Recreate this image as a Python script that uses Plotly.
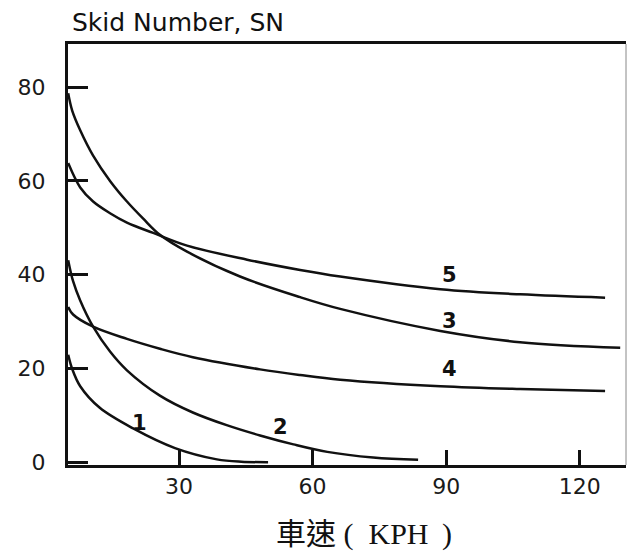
import plotly.graph_objects as go

# Skid number vs. speed for five pavement surfaces
speed_1 = [5.1, 6.0, 7.8, 12.2, 19.7, 29.1, 38.5, 44.0, 50.0]
sn_1 = [22.9, 19.9, 16.2, 11.6, 7.2, 3.0, 0.6, 0.1, 0.0]

speed_2 = [5.1, 6.2, 7.8, 10.7, 14.5, 18.3, 25.7, 33.1, 40.7, 48.2, 55.7, 63.3, 73.6, 83.7]
sn_2 = [43.1, 38.6, 34.5, 28.9, 23.6, 19.6, 14.2, 10.6, 7.9, 5.7, 3.8, 2.2, 1.0, 0.5]

speed_3 = [5.1, 6.0, 7.8, 10.7, 14.5, 18.3, 21.9, 25.7, 31.8, 43.7, 57.2, 66.2, 88.7, 106.6, 129.1]
sn_3 = [78.7, 75.0, 70.8, 65.4, 60.0, 55.6, 52.0, 48.5, 44.9, 39.6, 35.2, 32.7, 28.0, 25.6, 24.4]

speed_4 = [5.1, 6.2, 10.7, 18.3, 25.7, 33.1, 48.2, 57.2, 66.2, 88.7, 106.6, 125.7]
sn_4 = [33.1, 31.5, 28.9, 26.3, 24.2, 22.4, 19.8, 18.6, 17.6, 16.2, 15.6, 15.2]

speed_5 = [5.1, 7.8, 10.7, 14.5, 18.3, 24.2, 31.8, 45.3, 57.2, 66.2, 88.7, 106.6, 125.7]
sn_5 = [63.8, 58.6, 55.6, 53.1, 51.1, 48.9, 46.2, 43.2, 41.0, 39.6, 36.9, 35.8, 35.1]

curve_names = ["1", "2", "3", "4", "5"]
curves = [(speed_1, sn_1), (speed_2, sn_2), (speed_3, sn_3), (speed_4, sn_4), (speed_5, sn_5)]

# where each curve number is written (speed, SN)
label_speed = [21.2, 52.9, 90.7, 90.7, 90.7]
label_sn = [8.4, 7.5, 30.1, 19.9, 39.9]

x_ticks = [30, 60, 90, 120]
y_ticks = [0, 20, 40, 60, 80]

fig = go.Figure()
for name, (xs, ys) in zip(curve_names, curves):
    fig.add_trace(go.Scatter(
        x=xs, y=ys, mode="lines", name=name,
        line=dict(color="#111111", width=2.5, shape="spline", smoothing=1.0),
        showlegend=False, hoverinfo="skip",
    ))

for name, lx, ly in zip(curve_names, label_speed, label_sn):
    fig.add_annotation(
        x=lx, y=ly, text=name, showarrow=False,
        font=dict(family="DejaVu Sans", size=21, color="#111111", weight="bold"),
        xanchor="center", yanchor="middle",
    )

tick_font = dict(family="DejaVu Sans", size=22, color="#1a1a1a")

fig.update_xaxes(
    range=[5.06, 130.4], tickvals=x_ticks, ticktext=[str(v) for v in x_ticks],
    ticks="inside", ticklen=15, tickwidth=2.5, tickcolor="#111111",
    showline=True, linewidth=3, linecolor="#111111", mirror=True,
    showgrid=False, zeroline=False, tickfont=tick_font, ticklabelstandoff=0,
)
fig.update_yaxes(
    range=[-0.6, 89.2], tickvals=y_ticks, ticktext=[str(v) for v in y_ticks],
    ticks="inside", ticklen=20, tickwidth=2.5, tickcolor="#111111",
    showline=True, linewidth=3, linecolor="#111111", mirror=False,
    showgrid=False, zeroline=False, tickfont=tick_font, ticklabelstandoff=15,
)

# thin right-hand frame edge
fig.add_shape(type="line", xref="paper", yref="paper", x0=1, x1=1, y0=0, y1=1,
              line=dict(color="#888888", width=1))

# y-axis heading above the frame
fig.add_annotation(
    xref="paper", yref="paper", x=0.004, y=1.05, text="Skid Number, SN",
    showarrow=False, xanchor="left", yanchor="middle",
    font=dict(family="DejaVu Sans", size=25, color="#111111"),
)

# x-axis heading
fig.add_annotation(
    xref="paper", yref="paper", x=0.531, y=-0.164,
    text="車速\u00a0(\u00a0\u00a0KPH\u00a0\u2009)",
    showarrow=False, xanchor="center", yanchor="middle",
    font=dict(family="Liberation Serif, Noto Sans CJK TC", size=30, color="#111111"),
)

fig.update_layout(
    width=627, height=554,
    margin=dict(l=68, r=1, t=44, b=89),
    paper_bgcolor="white", plot_bgcolor="white",
)

fig.write_html("out.html")
